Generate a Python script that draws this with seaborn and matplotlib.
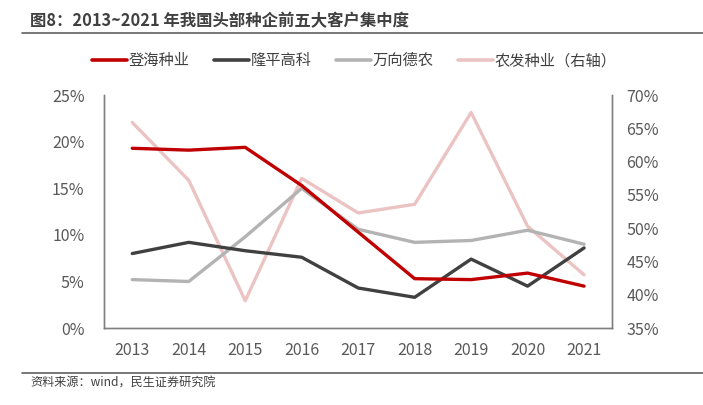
import matplotlib
matplotlib.use("Agg")
import matplotlib.pyplot as plt
import matplotlib.ticker as mticker
from matplotlib.lines import Line2D
import seaborn as sns
import pandas as pd

years = [2013, 2014, 2015, 2016, 2017, 2018, 2019, 2020, 2021]
denghai = [19.3, 19.1, 19.4, 15.3, 10.3, 5.3, 5.2, 5.9, 4.5]
longping = [8.0, 9.2, 8.3, 7.6, 4.3, 3.3, 7.4, 4.5, 8.6]
wanxiang = [5.2, 5.0, 9.8, 15.0, 10.6, 9.2, 9.4, 10.5, 9.0]
nongfa = [65.9, 57.2, 39.1, 57.5, 52.3, 53.6, 67.4, 50.3, 43.0]

names = ["登海种业", "隆平高科", "万向德农", "农发种业（右轴）"]
colors = ["#C00000", "#404040", "#B3B3B3", "#EBC3C3"]

sns.set_theme(style="white")
plt.rcParams['font.family'] = ['Noto Sans CJK SC', 'DejaVu Sans']

fig = plt.figure(figsize=(7.03, 4.05), dpi=100)
ax = fig.add_axes([0.148, 0.19, 0.723, 0.575])
ax2 = ax.twinx()

x = list(range(len(years)))
df = pd.DataFrame({"x": x, "登海种业": denghai, "隆平高科": longping,
                   "万向德农": wanxiang, "农发种业": nongfa})

lw = 2.4
sns.lineplot(data=df, x="x", y="万向德农", ax=ax, color=colors[2], lw=lw, zorder=3)
sns.lineplot(data=df, x="x", y="隆平高科", ax=ax, color=colors[1], lw=lw, zorder=4)
sns.lineplot(data=df, x="x", y="登海种业", ax=ax, color=colors[0], lw=lw, zorder=5)
sns.lineplot(data=df, x="x", y="农发种业", ax=ax2, color=colors[3], lw=lw, zorder=2)

tick_color = "#595959"
ax.set_xlim(-0.5, 8.5)
ax.set_ylim(0, 25)
ax2.set_ylim(35, 70)
ax.set_xticks(x)
ax.set_xticklabels([str(y) for y in years])
ax.yaxis.set_major_locator(mticker.MultipleLocator(5))
ax2.yaxis.set_major_locator(mticker.MultipleLocator(5))
ax.yaxis.set_major_formatter(mticker.FuncFormatter(lambda v, p: f"{v:.0f}%"))
ax2.yaxis.set_major_formatter(mticker.FuncFormatter(lambda v, p: f"{v:.0f}%"))
for a in (ax, ax2):
    a.set_xlabel("")
    a.set_ylabel("")
    a.tick_params(axis="both", length=0, labelsize=11.5, colors=tick_color, pad=8)
    a.grid(False)
    a.spines["top"].set_visible(False)
    for s in ("left", "right", "bottom"):
        a.spines[s].set_color("#808080")
        a.spines[s].set_linewidth(1.0)
ax.tick_params(axis="x", pad=10)
ax.tick_params(axis="y", pad=14)
ax2.tick_params(axis="y", pad=10)
ax.set_zorder(ax2.get_zorder() + 1)
ax.patch.set_visible(False)

handles = [Line2D([0], [0], color=c, lw=2.6) for c in colors]
fig.legend(handles, names, loc="center", bbox_to_anchor=(0.504, 0.85), ncol=4,
           frameon=False, fontsize=11, handlelength=2.3, handletextpad=0.1,
           columnspacing=1.6, labelcolor="#404040")

fig.text(0.043, 0.948, "图8：2013~2021 年我国头部种企前五大客户集中度", fontsize=11.8,
         fontweight="bold", color="#404040", va="center", ha="left")
fig.add_artist(Line2D([0.031, 1.0], [0.918, 0.918], color="#606060", lw=1.2))
fig.add_artist(Line2D([0.031, 1.0], [0.079, 0.079], color="#606060", lw=1.2))
fig.text(0.043, 0.053, "资料来源：wind，民生证券研究院", fontsize=8.7, color="#404040",
         va="center", ha="left")

fig.savefig("out.png", dpi=100)
